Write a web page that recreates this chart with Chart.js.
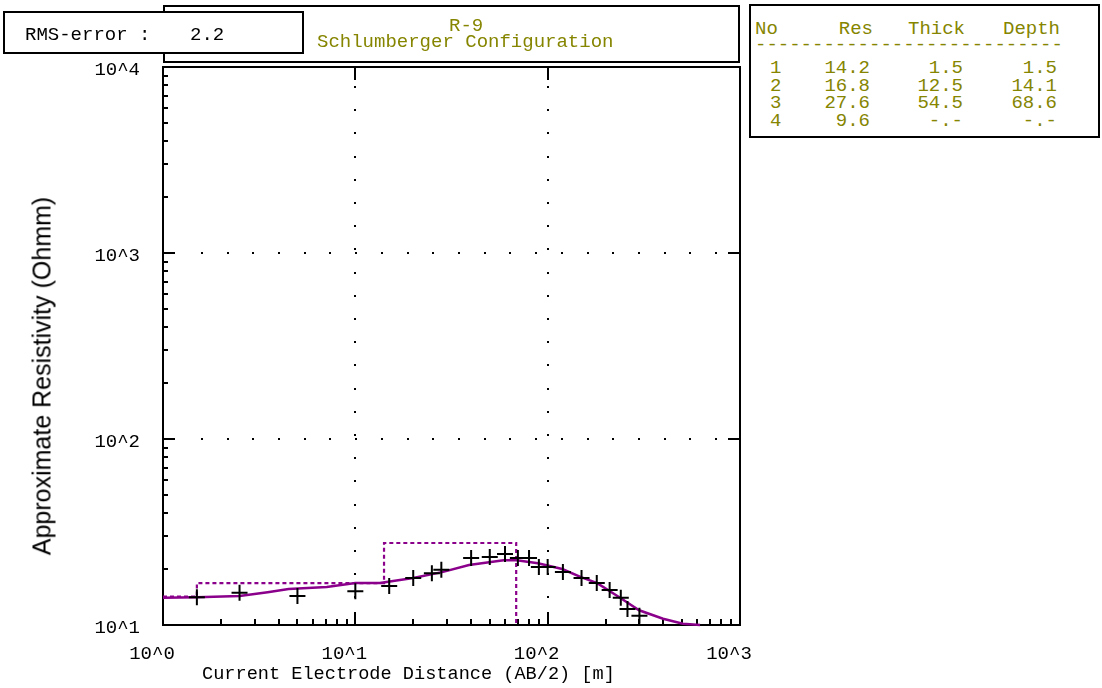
<!DOCTYPE html>
<html>
<head>
<meta charset="utf-8">
<script src="https://cdn.jsdelivr.net/npm/chart.js@4.4.1/dist/chart.umd.min.js"></script>
<style>
	html, body { margin: 0; padding: 0; background: #fff; }
	#wrap { position: relative; width: 1102px; height: 688px; overflow: hidden; }
	#chart-box { position: absolute; left: 0; top: 0; width: 1102px; height: 688px; }
	.box { position: absolute; border: 2px solid #000; background: #fff; box-sizing: border-box; }
	.mono { position: absolute; font-family: "Liberation Mono", "DejaVu Sans Mono", monospace; font-size: 19px; line-height: 19px; white-space: pre; color: #000; }
	.olive { color: #858500; }
	.r { text-align: right; }
	#y-title { position: absolute; left: 42px; top: 376px; transform: translate(-50%, -50%) rotate(-90deg); font-family: "Liberation Sans", Arial, sans-serif; font-size: 25px; white-space: nowrap; color: #000; }
</style>
</head>
<body>
<div id="wrap">
	<div id="chart-box"><canvas id="chart-sounding"></canvas></div>

	<!-- title box -->
	<div class="box" style="left:163px; top:5px; width:577px; height:58px;"></div>
	<div class="mono olive" style="left:449px; top:17px;">R-9</div>
	<div class="mono olive" style="left:317px; top:33px;">Schlumberger Configuration</div>

	<!-- rms box -->
	<div class="box" style="left:3px; top:11px; width:301px; height:43px;"></div>
	<div class="mono" style="left:25px; top:26px;">RMS-error :</div>
	<div class="mono" style="left:190px; top:26px;">2.2</div>

	<!-- layer table -->
	<div class="box" style="left:749px; top:4px; width:351px; height:134px;"></div>
	<div id="layer-table"></div>

	<!-- axis titles -->
	<div class="mono" style="left:202px; top:665px; font-size:18.6px;">Current Electrode Distance (AB/2) [m]</div>
	<div id="y-title">Approximate Resistivity (Ohmm)</div>
</div>

<script>
//---------------------------------------------------------
// Data
//---------------------------------------------------------
// Field measurements: AB/2 [m] and apparent resistivity [Ohmm]
const abHalf = [1.5, 2.5, 5, 10, 15, 20, 25, 28, 40, 50, 60, 70, 80, 90, 100, 120, 150, 180, 210, 240, 260, 300];
const rhoField = [14.1, 14.9, 14.3, 15.2, 16.2, 17.9, 19.0, 19.8, 22.9, 23.2, 24.1, 22.9, 22.9, 20.5, 20.5, 19.3, 17.9, 16.8, 15.4, 14.0, 12.2, 11.2];

// Calculated model curve
const modelAb = [1, 1.5, 2.5, 3.5, 4.5, 7.1, 10, 13.4, 20, 28.6, 39, 59, 69, 89, 119, 149, 181, 238, 299, 398, 505, 620];
const modelRho = [14.0, 14.1, 14.3, 15.0, 15.6, 16.0, 16.8, 16.8, 17.9, 19.3, 21.0, 22.3, 22.3, 21.5, 20.0, 18.1, 16.8, 14.0, 12.0, 10.8, 10.15, 10.0];

// Layer model (table)
const layerNo = ["1", "2", "3", "4"];
const layerRes = [14.2, 16.8, 27.6, 9.6];
const layerThick = [1.5, 12.5, 54.5];
const layerDepth = [1.5, 14.1, 68.6];

// Axes
const xTickValues = [1, 10, 100, 1000];
const xTickLabels = ["10^0", "10^1", "10^2", "10^3"];
const yTickValues = [10, 100, 1000, 10000];
const yTickLabels = ["10^1", "10^2", "10^3", "10^4"];

const PURPLE = "#8b008b";
const MONO = "'Liberation Mono', 'DejaVu Sans Mono', monospace";
const MINOR = [2, 3, 4, 5, 6, 7, 8, 9];

//---------------------------------------------------------
// Layer table
//---------------------------------------------------------
const TABLE = document.getElementById("layer-table");
const fmt = (v) => (v === undefined ? "-.-" : v.toFixed(1));
let rows = `<div class="mono olive" style="left:755px; top:20px;">No</div>
	<div class="mono olive r" style="left:800px; width:73px; top:20px;">Res</div>
	<div class="mono olive r" style="left:880px; width:85px; top:20px;">Thick</div>
	<div class="mono olive r" style="left:980px; width:80px; top:20px;">Depth</div>
	<div class="mono olive" style="left:755px; top:36px;">---------------------------</div>`;
layerNo.forEach((no, i) => {
	const top = 59 + i * 17.7;
	rows += `<div class="mono olive" style="left:770px; top:${top}px;">${no}</div>
		<div class="mono olive r" style="left:800px; width:70px; top:${top}px;">${fmt(layerRes[i])}</div>
		<div class="mono olive r" style="left:880px; width:83px; top:${top}px;">${fmt(layerThick[i])}</div>
		<div class="mono olive r" style="left:980px; width:77px; top:${top}px;">${fmt(layerDepth[i])}</div>`;
});
TABLE.innerHTML = rows;

// Stepped path of the layer model
const layerPath = [{ x: xTickValues[0], y: layerRes[0] }];
layerDepth.forEach((d, i) => {
	layerPath.push({ x: d, y: layerRes[i] }, { x: d, y: layerRes[i + 1] });
});
layerPath.push({ x: xTickValues[xTickValues.length - 1], y: layerRes[layerRes.length - 1] });

//---------------------------------------------------------
// Frame, inner ticks and dotted grid (drawn under the data)
//---------------------------------------------------------
const frameTicks = {
	id: "frameTicks",
	beforeDatasetsDraw(chart) {
		const { ctx, chartArea: a, scales: { x, y } } = chart;
		ctx.save();
		ctx.fillStyle = "#000";
		xTickValues.slice(1, -1).forEach((v) => {
			const px = Math.round(x.getPixelForValue(v));
			for (let py = a.top + 19; py < a.bottom - 6; py += 23.2) ctx.fillRect(px - 1, Math.round(py), 2, 2);
		});
		yTickValues.slice(1, -1).forEach((v) => {
			const py = Math.round(y.getPixelForValue(v));
			for (let px = a.left + 38; px < a.right - 14; px += 25.7) ctx.fillRect(Math.round(px), py - 1, 2, 2);
		});

		ctx.strokeStyle = "#000";
		ctx.lineWidth = 2;
		ctx.strokeRect(a.left, a.top, a.right - a.left, a.bottom - a.top);
		ctx.beginPath();
		xTickValues.slice(0, -1).forEach((d) => {
			MINOR.forEach((m) => {
				const px = Math.round(x.getPixelForValue(d * m));
				ctx.moveTo(px, a.bottom);
				ctx.lineTo(px, a.bottom - 6);
			});
		});
		xTickValues.slice(1, -1).forEach((v) => {
			const px = Math.round(x.getPixelForValue(v));
			ctx.moveTo(px, a.bottom);
			ctx.lineTo(px, a.bottom - 13);
			ctx.moveTo(px, a.top);
			ctx.lineTo(px, a.top + 13);
		});
		yTickValues.slice(0, -1).forEach((d) => {
			MINOR.forEach((m) => {
				const py = Math.round(y.getPixelForValue(d * m));
				ctx.moveTo(a.left, py);
				ctx.lineTo(a.left + 5, py);
			});
		});
		yTickValues.slice(1, -1).forEach((v) => {
			const py = Math.round(y.getPixelForValue(v));
			ctx.moveTo(a.left, py);
			ctx.lineTo(a.left + 12, py);
			ctx.moveTo(a.right, py);
			ctx.lineTo(a.right - 12, py);
		});
		ctx.stroke();
		ctx.restore();
	},
};

//---------------------------------------------------------
// Chart
//---------------------------------------------------------
const CHART_DATA = {
	datasets: [
		{
			label: "Field data",
			data: abHalf.map((v, i) => ({ x: v, y: rhoField[i] })),
			showLine: false,
			pointStyle: "cross",
			pointRadius: 8,
			borderColor: "#000",
			borderWidth: 2,
			order: 1,
		},
		{
			label: "Model curve",
			data: modelAb.map((v, i) => ({ x: v, y: modelRho[i] })),
			showLine: true,
			borderColor: PURPLE,
			borderWidth: 2.5,
			pointRadius: 0,
			clip: { left: 1, top: 1, right: 1, bottom: 3 },
			order: 2,
		},
		{
			label: "Layer model",
			data: layerPath,
			showLine: true,
			borderColor: PURPLE,
			borderWidth: 2.2,
			borderDash: [4, 3],
			pointRadius: 0,
			order: 3,
		},
	],
};

const CHART_CONFIG = {
	type: "scatter",
	data: CHART_DATA,
	plugins: [frameTicks],
	options: {
		responsive: true,
		maintainAspectRatio: false,
		animation: false,
		events: [],
		layout: {
			padding: { top: 67, right: 362, bottom: 0, left: 0 },
		},
		scales: {
			x: {
				type: "logarithmic",
				min: xTickValues[0],
				max: xTickValues[xTickValues.length - 1],
				border: { display: false },
				grid: { display: false, drawTicks: false },
				afterBuildTicks: (scale) => {
					scale.ticks = xTickValues.map((v) => ({ value: v }));
				},
				afterFit: (scale) => {
					scale.height = 63;
				},
				ticks: {
					autoSkip: false,
					maxRotation: 0,
					padding: 18,
					labelOffset: -11,
					color: "#000",
					font: { family: MONO, size: 19 },
					callback: (v) => xTickLabels[xTickValues.indexOf(v)],
				},
			},
			y: {
				type: "logarithmic",
				min: yTickValues[0],
				max: yTickValues[yTickValues.length - 1],
				border: { display: false },
				grid: { display: false, drawTicks: false },
				afterBuildTicks: (scale) => {
					scale.ticks = yTickValues.map((v) => ({ value: v }));
				},
				afterFit: (scale) => {
					scale.width = 163;
				},
				ticks: {
					autoSkip: false,
					padding: 23,
					labelOffset: 3,
					color: "#000",
					font: { family: MONO, size: 19 },
					callback: (v) => yTickLabels[yTickValues.indexOf(v)],
				},
			},
		},
		plugins: {
			legend: { display: false },
			tooltip: { enabled: false },
		},
	},
};

new Chart(document.getElementById("chart-sounding"), CHART_CONFIG);
</script>
</body>
</html>
